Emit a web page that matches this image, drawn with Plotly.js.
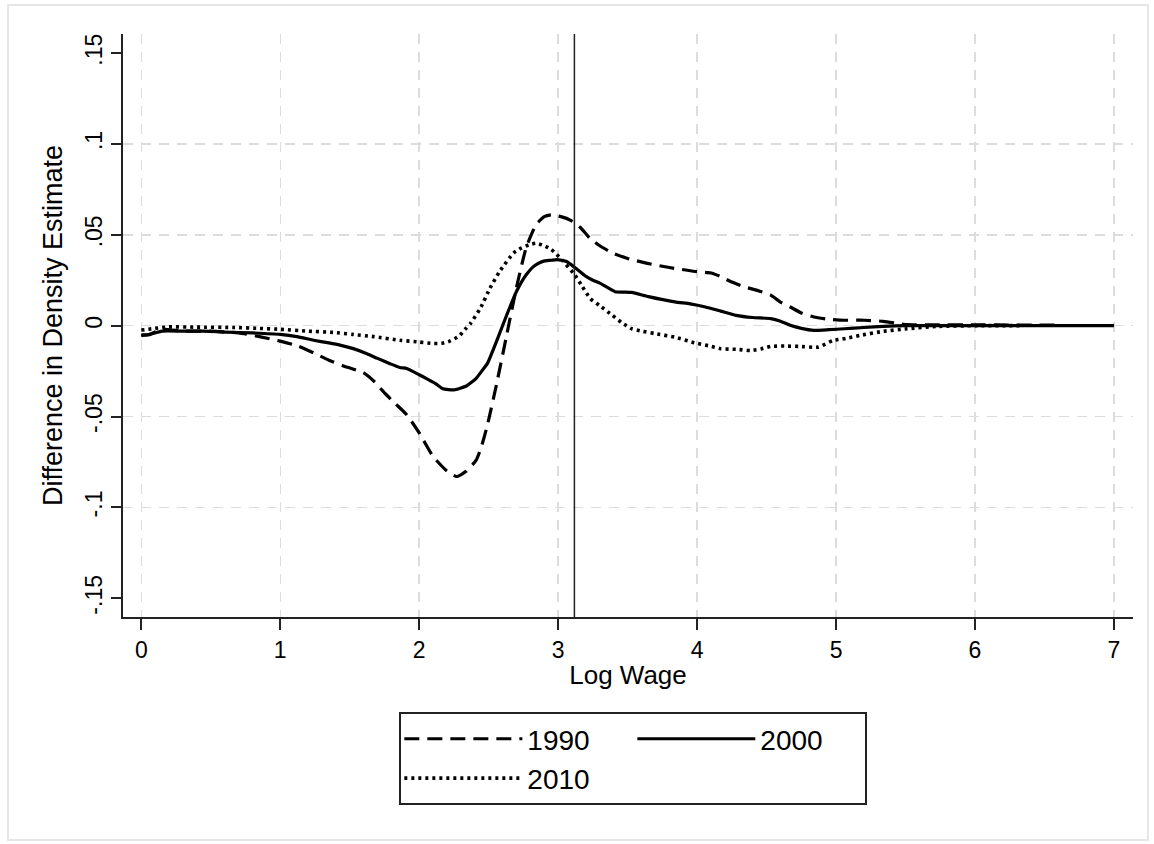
<!DOCTYPE html>
<html>
<head>
<meta charset="utf-8">
<script src="https://cdn.plot.ly/plotly-3.0.1.min.js"></script>
<style>html,body{margin:0;padding:0;background:#fff;}#chart{width:1154px;height:844px;}</style>
</head>
<body>
<div id="chart"></div>
<script>
// ---- data ----
const seriesNames = ["1990", "2000", "2010"];

const x1990 = [0, 0.05, 0.15, 0.3, 0.5, 0.7, 0.85, 1.0, 1.12, 1.24, 1.35, 1.45, 1.6, 1.68, 1.75, 1.83, 1.91, 2.0, 2.1, 2.2, 2.27, 2.34, 2.41, 2.45, 2.49, 2.56, 2.63, 2.7, 2.77, 2.84, 2.9, 2.95, 3.02, 3.09, 3.16, 3.23, 3.3, 3.39, 3.5, 3.64, 3.8, 4.0, 4.1, 4.17, 4.25, 4.34, 4.45, 4.53, 4.6, 4.67, 4.75, 4.84, 4.95, 5.06, 5.2, 5.34, 5.45, 5.51, 5.7, 6.0, 6.3, 6.6];
const y1990 = [-0.005, -0.005, -0.002, -0.003, -0.003, -0.004, -0.006, -0.0085, -0.011, -0.015, -0.019, -0.022, -0.026, -0.031, -0.037, -0.043, -0.049, -0.059, -0.072, -0.080, -0.083, -0.080, -0.074, -0.066, -0.055, -0.031, -0.005, 0.021, 0.043, 0.0555, 0.060, 0.061, 0.060, 0.058, 0.054, 0.048, 0.044, 0.040, 0.037, 0.0343, 0.032, 0.0297, 0.029, 0.027, 0.024, 0.0214, 0.019, 0.0168, 0.013, 0.0103, 0.007, 0.0048, 0.0035, 0.003, 0.003, 0.0024, 0.0012, 0.0006, 0.0005, 0.0005, 0.0003, 0.0003];

const x2000 = [0, 0.05, 0.15, 0.3, 0.45, 0.6, 0.8, 1.0, 1.12, 1.24, 1.35, 1.43, 1.52, 1.62, 1.7, 1.79, 1.86, 1.91, 2.0, 2.05, 2.12, 2.17, 2.25, 2.34, 2.41, 2.45, 2.49, 2.56, 2.63, 2.7, 2.77, 2.83, 2.89, 2.95, 2.99, 3.06, 3.12, 3.2, 3.25, 3.3, 3.41, 3.47, 3.53, 3.65, 3.84, 3.95, 4.06, 4.17, 4.28, 4.4, 4.53, 4.6, 4.67, 4.75, 4.84, 4.95, 5.06, 5.2, 5.34, 5.5, 5.8, 6.2, 6.6, 7.0];
const y2000 = [-0.0055, -0.005, -0.003, -0.003, -0.003, -0.0035, -0.004, -0.0048, -0.006, -0.008, -0.0095, -0.0107, -0.0125, -0.0153, -0.018, -0.0209, -0.023, -0.0236, -0.027, -0.029, -0.032, -0.0347, -0.0353, -0.0332, -0.029, -0.025, -0.0209, -0.0079, 0.0059, 0.0188, 0.028, 0.033, 0.0354, 0.036, 0.0364, 0.0353, 0.032, 0.0271, 0.025, 0.0234, 0.0187, 0.0185, 0.0183, 0.016, 0.0131, 0.012, 0.0103, 0.008, 0.0057, 0.0045, 0.0039, 0.0025, 0.0002, -0.0015, -0.0026, -0.0022, -0.0017, -0.001, -0.0004, 0, 0, 0, 0, 0];

const x2010 = [0, 0.1, 0.19, 0.4, 0.67, 0.85, 1.0, 1.2, 1.38, 1.52, 1.67, 1.86, 2.0, 2.1, 2.16, 2.22, 2.29, 2.33, 2.37, 2.44, 2.51, 2.58, 2.68, 2.73, 2.79, 2.84, 2.9, 2.95, 3.03, 3.12, 3.17, 3.23, 3.3, 3.39, 3.46, 3.53, 3.6, 3.7, 3.84, 3.98, 4.08, 4.17, 4.28, 4.39, 4.46, 4.53, 4.63, 4.73, 4.87, 4.98, 5.07, 5.17, 5.34, 5.51, 5.73, 6.0, 6.35];
const y2010 = [-0.0024, -0.0015, -0.0007, -0.0008, -0.001, -0.0015, -0.002, -0.003, -0.0037, -0.0048, -0.006, -0.008, -0.009, -0.0098, -0.0097, -0.0085, -0.0055, -0.002, 0.0013, 0.0096, 0.0207, 0.030, 0.040, 0.0425, 0.0445, 0.0454, 0.044, 0.042, 0.036, 0.0279, 0.022, 0.015, 0.011, 0.0057, 0.0015, -0.0017, -0.003, -0.0044, -0.0063, -0.0094, -0.011, -0.0127, -0.013, -0.0137, -0.0128, -0.0114, -0.0112, -0.0114, -0.0118, -0.0081, -0.007, -0.0054, -0.0031, -0.0017, -0.0004, 0, 0];

const xTickVals = [0, 1, 2, 3, 4, 5, 6, 7];
const xTickText = ["0", "1", "2", "3", "4", "5", "6", "7"];
const yTickVals = [-0.15, -0.1, -0.05, 0, 0.05, 0.1, 0.15];
const yTickText = ["-.15", "-.1", "-.05", "0", ".05", ".1", ".15"];
const yGridVals = [-0.1, -0.05, 0, 0.05, 0.1];
const refLineX = [3.117];

const xTitle = "Log Wage";
const yTitle = "Difference in Density Estimate";

// ---- chart ----
const FONT = "Arial, 'Liberation Sans', sans-serif";
const lineCommon = {shape: "spline", smoothing: 0.5, color: "#000"};

const traces = [
  {x: x1990, y: y1990, name: seriesNames[0], legendgroup: "a", mode: "lines",
   line: Object.assign({}, lineCommon, {width: 3.2, dash: "15px,8px"})},
  {x: x2000, y: y2000, name: seriesNames[1], legendgroup: "b", mode: "lines",
   line: Object.assign({}, lineCommon, {width: 3.2})},
  {x: x2010, y: y2010, name: seriesNames[2], legendgroup: "a", mode: "lines",
   line: Object.assign({}, lineCommon, {width: 3.6, dash: "3px,4px"})},
  // invisible helper trace on the grid axis
  {x: [0], y: [0], yaxis: "y2", mode: "markers", marker: {opacity: 0}, showlegend: false, hoverinfo: "skip"}
];

const yRange = [-0.1603, 0.1605];
const layout = {
  width: 1154, height: 844,
  margin: {l: 123, r: 21, t: 34, b: 227},
  paper_bgcolor: "#fff", plot_bgcolor: "#fff",
  font: {family: FONT, color: "#000"},
  showlegend: true,
  xaxis: {
    range: [-0.1317, 7.137], tickvals: xTickVals, ticktext: xTickText,
    showgrid: true, gridcolor: "#dcdcdc", gridwidth: 1.5, griddash: "10px,8px",
    zeroline: false, showline: true, linecolor: "#222", linewidth: 2,
    ticks: "outside", ticklen: 11, tickwidth: 2, tickcolor: "#222",
    tickfont: {size: 23, family: FONT},
    title: {text: xTitle, font: {size: 26, family: FONT}, standoff: 4}
  },
  yaxis: {
    range: yRange, tickvals: yTickVals, ticktext: yTickText, tickangle: -90,
    showgrid: false, zeroline: false, showline: true, linecolor: "#222", linewidth: 2,
    ticks: "outside", ticklen: 10, tickwidth: 2, tickcolor: "#222",
    tickfont: {size: 23, family: FONT},
    title: {text: yTitle, font: {size: 27, family: FONT}, standoff: 10}
  },
  yaxis2: {
    range: yRange, overlaying: "y", tickvals: yGridVals, showticklabels: false,
    showgrid: true, gridcolor: "#dcdcdc", gridwidth: 1.5, griddash: "10px,8px",
    zeroline: false, showline: false, ticks: ""
  },
  legend: {
    orientation: "h", traceorder: "grouped",
    x: 0.2736, xanchor: "left", y: -0.163, yanchor: "top",
    bgcolor: "#fff", bordercolor: "#222", borderwidth: 2,
    font: {size: 28, family: FONT}, itemwidth: 118, entrywidth: 100,
    itemclick: false, itemdoubleclick: false
  },
  shapes: [
    {type: "line", xref: "x", yref: "paper", x0: refLineX[0], x1: refLineX[0], y0: 0, y1: 1,
     line: {color: "#222", width: 1.5}},
    {type: "rect", xref: "paper", yref: "paper", x0: -0.1139, x1: 1.0148, y0: -0.3825, y1: 1.0498,
     line: {color: "#e6e6e6", width: 2}, fillcolor: "rgba(0,0,0,0)", layer: "below"}
  ]
};

Plotly.newPlot("chart", traces, layout, {displayModeBar: false, staticPlot: true});
</script>
</body>
</html>
